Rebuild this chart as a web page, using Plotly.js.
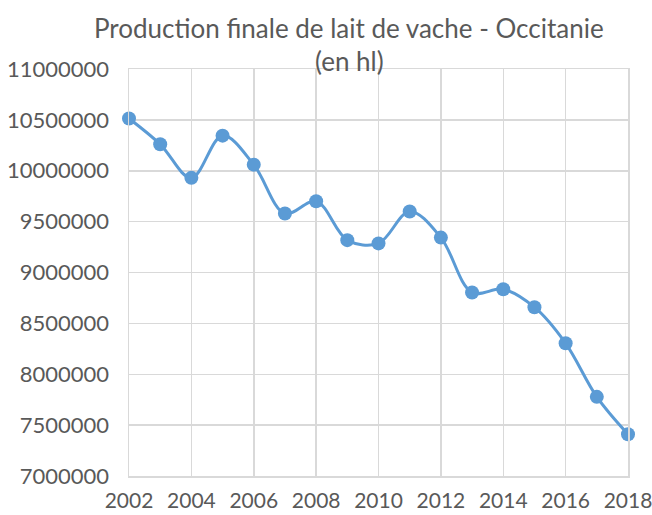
<!DOCTYPE html>
<html>
<head>
<meta charset="utf-8">
<script src="https://cdn.plot.ly/plotly-3.0.1.min.js"></script>
<style>html,body{margin:0;padding:0;background:#fff}#chart{width:652px;height:515px}</style>
</head>
<body>
<div id="chart"></div>
<script>
const years = [2002,2003,2004,2005,2006,2007,2008,2009,2010,2011,2012,2013,2014,2015,2016,2017,2018];
const production = [10513000,10260000,9930000,10345000,10060000,9580000,9700000,9318000,9286000,9600000,9343000,8804000,8836000,8659000,8304000,7778000,7410000];
const yTicks = [7000000,7500000,8000000,8500000,9000000,9500000,10000000,10500000,11000000];
const xTicks = [2002,2004,2006,2008,2010,2012,2014,2016,2018];
const titleLines = ['Production finale de lait de vache - Occitanie', '(en hl)'];

const font = "Lato, 'Open Sans', sans-serif";
const trace = {
  x: years, y: production, type: 'scatter', mode: 'lines+markers',
  line: {color: '#5B9BD5', width: 3, shape: 'spline', smoothing: 1},
  marker: {color: '#5B9BD5', size: 14},
  cliponaxis: false, hoverinfo: 'x+y'
};
const titleFont = {family: font, size: 26, color: '#595959'};
const plotW = 652 - 129 - 24;
const titleX = (349 - 129) / plotW;
const layout = {
  width: 652, height: 515,
  margin: {l: 129, r: 24, t: 69, b: 39},
  paper_bgcolor: '#fff', plot_bgcolor: '#fff',
  annotations: [
    {text: titleLines[0], xref: 'paper', yref: 'paper', x: titleX, xanchor: 'center', y: 1 + 41/406, yanchor: 'middle', showarrow: false, font: titleFont},
    {text: titleLines[1], xref: 'paper', yref: 'paper', x: titleX, xanchor: 'center', y: 1 + 8/406, yanchor: 'middle', showarrow: false, font: titleFont}
  ],
  xaxis: {range: [2002, 2018], tickvals: xTicks, ticktext: xTicks.map(String), showgrid: true, gridcolor: '#d9d9d9', gridwidth: 1.5,
    showline: true, linecolor: '#d9d9d9', linewidth: 1.5, mirror: true, zeroline: false, ticks: '', ticklen: 0, ticklabelstandoff: 5,
    ticklabeloverflow: 'allow',
    tickfont: {family: font, size: 21, color: '#595959'}},
  yaxis: {range: [7000000, 11000000], tickvals: yTicks, ticktext: yTicks.map(String), showgrid: true, gridcolor: '#d9d9d9', gridwidth: 1.5,
    showline: true, linecolor: '#d9d9d9', linewidth: 1.5, mirror: true, zeroline: false, ticks: '', ticklen: 0, ticklabelstandoff: 14,
    ticklabeloverflow: 'allow',
    tickfont: {family: font, size: 22, color: '#595959'}},
  showlegend: false
};
Plotly.newPlot('chart', [trace], layout, {displayModeBar: false, staticPlot: true});
</script>
</body>
</html>
